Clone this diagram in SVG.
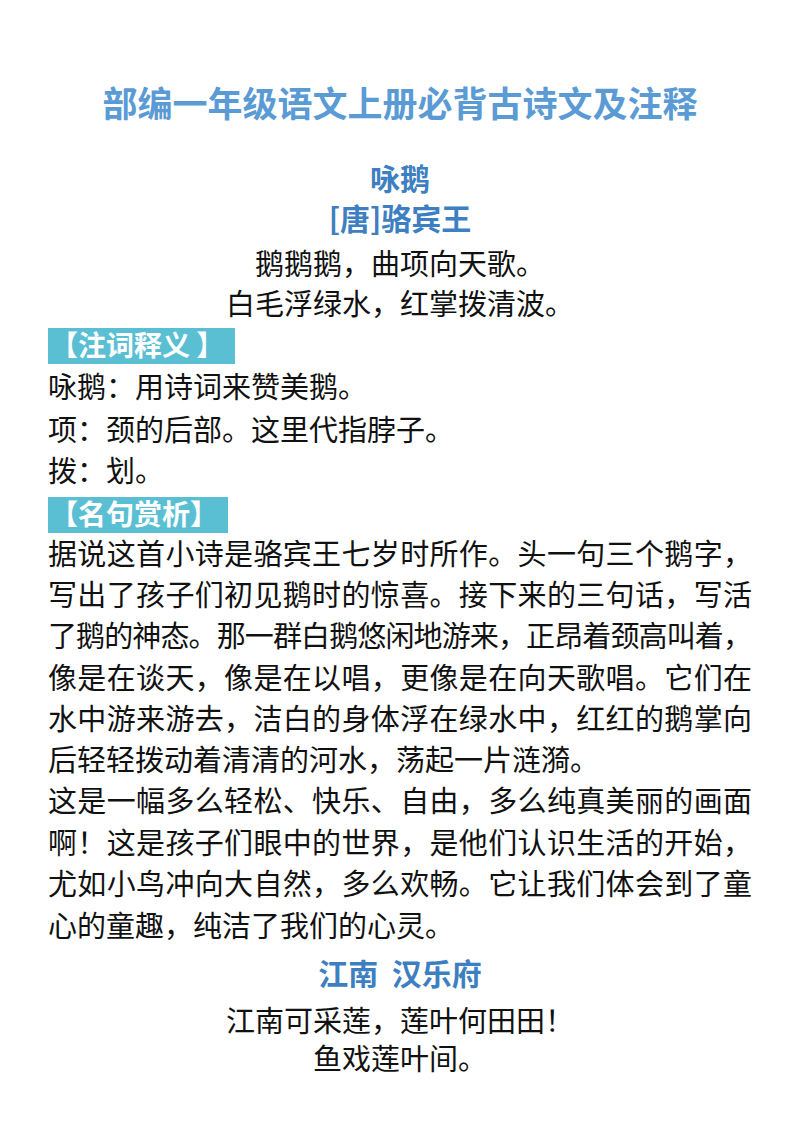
<svg xmlns="http://www.w3.org/2000/svg" width="800" height="1132" viewBox="0 0 800 1132">
<style>
text{font-family:"Noto Sans CJK SC","Noto Sans",sans-serif;fill:#111}
.t{fill:#5b9bd5;font-weight:bold;text-anchor:middle}
.h{fill:#3d7fc1}
.c{text-anchor:middle;font-size:29px}
.b{font-size:29px}
.lbl{fill:#fff;font-size:28px;font-weight:bold}
.box{fill:#5bbfd3}
</style>
<rect width="800" height="1132" fill="#fff"/>
<text class="t" x="400" y="117" font-size="35">部编一年级语文上册必背古诗文及注释</text>
<text class="t h" x="400" y="190" font-size="30">咏鹅</text>
<text class="t h" x="400" y="230" font-size="30">[唐]骆宾王</text>
<text class="c" x="400" y="275">鹅鹅鹅，曲项向天歌。</text>
<text class="c" x="400" y="315">白毛浮绿水，红掌拨清波。</text>
<g id="label1"><rect class="box" x="48" y="328" width="187" height="36"/><text class="lbl" x="50" y="356">【注词释义 】</text></g>
<text class="b" x="48" y="398">咏鹅：用诗词来赞美鹅。</text>
<text class="b" x="48" y="441">项：颈的后部。这里代指脖子。</text>
<text class="b" x="48" y="482">拨：划。</text>
<g id="label2"><rect class="box" x="48" y="497" width="180" height="36"/><text class="lbl" x="50" y="525">【名句赏析】</text></g>
<text class="b" x="48" y="565" textLength="704" lengthAdjust="spacing">据说这首小诗是骆宾王七岁时所作。头一句三个鹅字，</text>
<text class="b" x="48" y="606" textLength="704" lengthAdjust="spacing">写出了孩子们初见鹅时的惊喜。接下来的三句话，写活</text>
<text class="b" x="48" y="647" textLength="704" lengthAdjust="spacing">了鹅的神态。那一群白鹅悠闲地游来，正昂着颈高叫着，</text>
<text class="b" x="48" y="689" textLength="704" lengthAdjust="spacing">像是在谈天，像是在以唱，更像是在向天歌唱。它们在</text>
<text class="b" x="48" y="730" textLength="704" lengthAdjust="spacing">水中游来游去，洁白的身体浮在绿水中，红红的鹅掌向</text>
<text class="b" x="48" y="771">后轻轻拨动着清清的河水，荡起一片涟漪。</text>
<text class="b" x="48" y="812" textLength="704" lengthAdjust="spacing">这是一幅多么轻松、快乐、自由，多么纯真美丽的画面</text>
<text class="b" x="48" y="854" textLength="704" lengthAdjust="spacing">啊！这是孩子们眼中的世界，是他们认识生活的开始，</text>
<text class="b" x="48" y="895" textLength="704" lengthAdjust="spacing">尤如小鸟冲向大自然，多么欢畅。它让我们体会到了童</text>
<text class="b" x="48" y="937">心的童趣，纯洁了我们的心灵。</text>
<text class="t h" x="400" y="985" font-size="30" xml:space="preserve">江南  汉乐府</text>
<text class="c" x="400" y="1032">江南可采莲，莲叶何田田！</text>
<text class="c" x="400" y="1070">鱼戏莲叶间。</text>
</svg>
